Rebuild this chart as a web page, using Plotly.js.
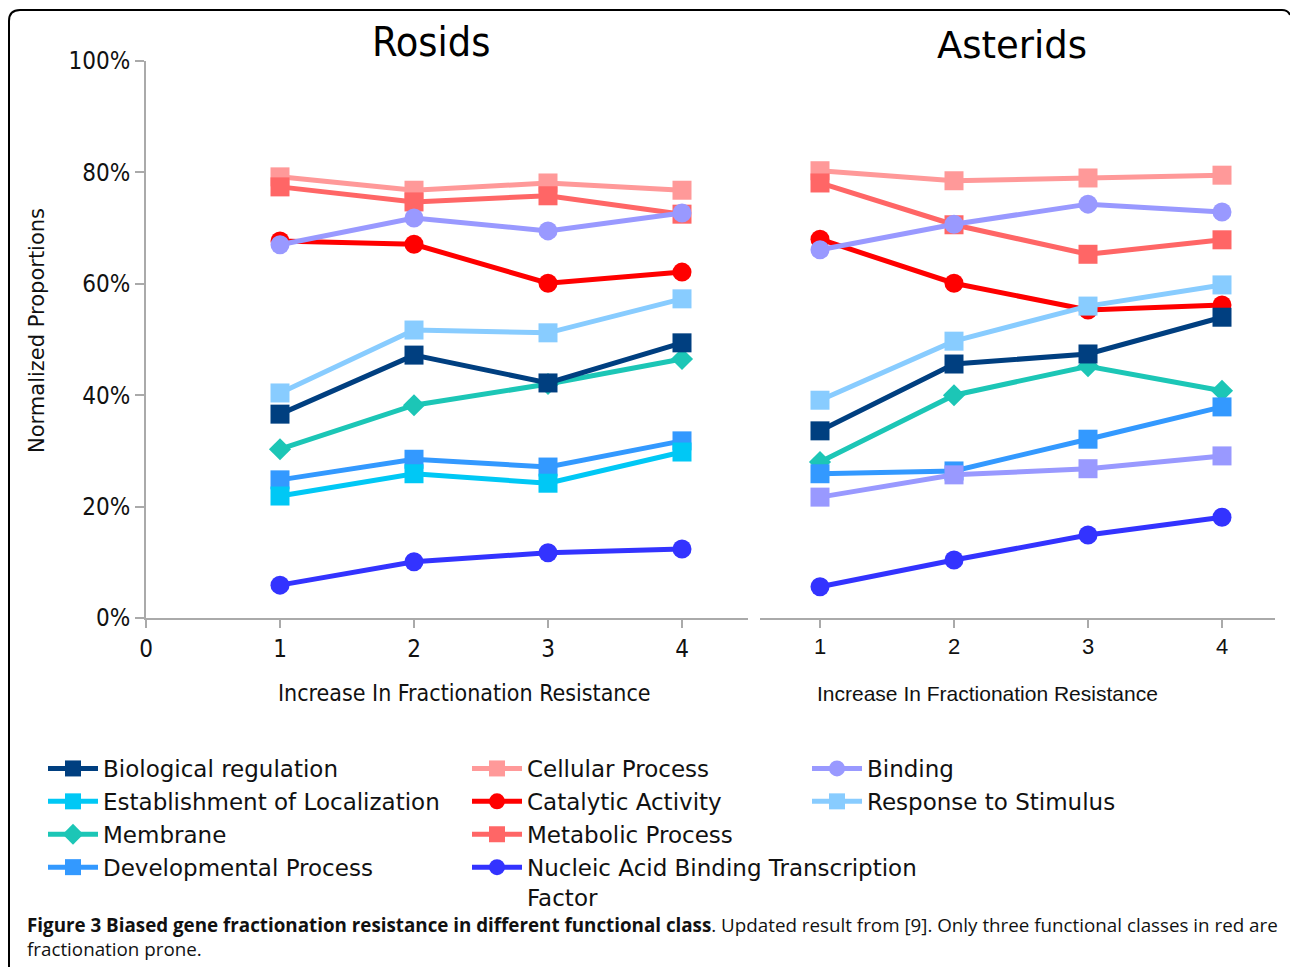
<!DOCTYPE html>
<html>
<head>
<meta charset="utf-8">
<script src="https://cdn.plot.ly/plotly-3.0.1.min.js"></script>
<style>
  html, body { margin: 0; padding: 0; background: #fff; }
  #chart { width: 1290px; height: 967px; }
</style>
</head>
<body>
<div id="chart"></div>
<script>
// ---------- data ----------
const levels = [1, 2, 3, 4];
const panelTitles = ["Rosids", "Asterids"];
const xAxisTitle = "Increase In Fractionation Resistance";
const yAxisTitle = "Normalized Proportions";
const leftTickVals = [0, 1, 2, 3, 4];
const rightTickVals = [1, 2, 3, 4];
const yTickVals = [0, 20, 40, 60, 80, 100];
const yTickText = ["0%", "20%", "40%", "60%", "80%", "100%"];

// Rosids (percent)
const rosCellular      = [79.2, 76.8, 78.1, 76.8];
const rosMetabolic     = [77.4, 74.7, 75.8, 72.5];
const rosBinding       = [67.0, 71.8, 69.5, 72.7];
const rosCatalytic     = [67.7, 67.1, 60.1, 62.1];
const rosResponse      = [40.4, 51.7, 51.2, 57.3];
const rosBioReg        = [36.6, 47.2, 42.2, 49.4];
const rosMembrane      = [30.3, 38.2, 42.0, 46.5];
const rosDevelopmental = [24.8, 28.5, 27.1, 31.8];
const rosEstablish     = [21.9, 25.9, 24.2, 29.8];
const rosNucleic       = [5.9, 10.1, 11.7, 12.4];

// Asterids (percent)
const astCellular      = [80.3, 78.5, 79.0, 79.5];
const astMetabolic     = [78.1, 70.6, 65.3, 67.9];
const astBinding       = [66.1, 70.7, 74.3, 72.9];
const astCatalytic     = [68.0, 60.1, 55.3, 56.2];
const astResponse      = [39.1, 49.7, 56.0, 59.8];
const astBioReg        = [33.6, 45.6, 47.4, 54.0];
const astMembrane      = [28.0, 40.0, 45.2, 40.8];
const astDevelopmental = [25.9, 26.4, 32.1, 37.9];
const astEstablish     = [21.7, 25.7, 26.8, 29.1];
const astNucleic       = [5.6, 10.4, 14.9, 18.1];

const captionBold = "Figure 3 Biased gene fractionation resistance in different functional class";
const captionRest = ". Updated result from [9]. Only three functional classes in red are";
const captionLine2 = "fractionation prone.";

// ---------- series definitions ----------
const series = [
  {name: "Cellular Process", ros: rosCellular, ast: astCellular, color: "#ff9999", symbol: "square", legend: "legend2", rank: 1},
  {name: "Metabolic Process", ros: rosMetabolic, ast: astMetabolic, color: "#ff6666", symbol: "square", legend: "legend2", rank: 3},
  {name: "Catalytic Activity", ros: rosCatalytic, ast: astCatalytic, color: "#ff0000", symbol: "circle", legend: "legend2", rank: 2},
  {name: "Binding", ros: rosBinding, ast: astBinding, color: "#9999ff", symbol: "circle", legend: "legend3", rank: 1},
  {name: "Response to Stimulus", ros: rosResponse, ast: astResponse, color: "#88ccff", symbol: "square", legend: "legend3", rank: 2},
  {name: "Membrane", ros: rosMembrane, ast: astMembrane, color: "#1cc6b6", symbol: "diamond", legend: "legend", rank: 3},
  {name: "Biological regulation", ros: rosBioReg, ast: astBioReg, color: "#003f80", symbol: "square", legend: "legend", rank: 1},
  {name: "Developmental Process", ros: rosDevelopmental, ast: astDevelopmental, color: "#3399ff", symbol: "square", legend: "legend", rank: 4},
  {name: "Establishment of Localization", ros: rosEstablish, ast: astEstablish, color: "#00c8f5", astColor: "#9999ff", symbol: "square", legend: "legend", rank: 2},
  {name: "Nucleic Acid Binding Transcription<br>Factor", ros: rosNucleic, ast: astNucleic, color: "#3333ff", symbol: "circle", legend: "legend2", rank: 4}
];

function markerSize(sym) { return sym === "diamond" ? 17 : 19; }

const traces = [];
series.forEach(function (s, i) {
  traces.push({
    type: "scatter", mode: "lines+markers",
    x: levels, y: s.ros, xaxis: "x", yaxis: "y",
    name: s.name, legend: s.legend, legendrank: s.rank, legendgroup: "g" + i,
    line: {color: s.color, width: 5},
    marker: {color: s.color, symbol: s.symbol, size: markerSize(s.symbol)},
    hoverinfo: "x+y+name"
  });
  traces.push({
    type: "scatter", mode: "lines+markers",
    x: levels, y: s.ast, xaxis: "x2", yaxis: "y2",
    name: s.name, legendgroup: "g" + i, showlegend: false,
    line: {color: s.astColor || s.color, width: 5},
    marker: {color: s.astColor || s.color, symbol: s.symbol, size: markerSize(s.symbol)},
    hoverinfo: "x+y+name"
  });
});

// ---------- layout helpers (pixel -> paper) ----------
const W = 1290, H = 967;
const px = function (v) { return v / W; };
const py = function (v) { return 1 - v / H; };

const condensed = "DejaVu Sans Condensed, Liberation Sans Narrow, DejaVu Sans, sans-serif";
const dejavu = "DejaVu Sans, sans-serif";
const arial = "Liberation Sans, Arial, sans-serif";
const gridGrey = "#aaaaaa";

const legendFont = {family: dejavu, size: 23, color: "#111"};
function legendAt(x, y, valign) {
  return {x: x, y: y, xanchor: "left", yanchor: "top", orientation: "v",
          font: legendFont, bgcolor: "rgba(0,0,0,0)", borderwidth: 0,
          tracegroupgap: 0, valign: valign || "middle", itemwidth: 50};
}

const layout = {
  width: W, height: H,
  margin: {l: 0, r: 0, t: 0, b: 0, pad: 0},
  paper_bgcolor: "#ffffff", plot_bgcolor: "#ffffff",
  showlegend: true,
  legend: legendAt(px(43), py(747)),
  legend2: legendAt(px(467), py(747), "top"),
  legend3: legendAt(px(807), py(747)),
  xaxis: {
    domain: [px(146), px(748)], range: [0, 4.4925], anchor: "y",
    tickmode: "array", tickvals: leftTickVals,
    ticks: "outside", ticklen: 8, tickwidth: 2, tickcolor: gridGrey,
    showline: true, linecolor: gridGrey, linewidth: 2,
    showgrid: false, zeroline: false,
    tickfont: {family: condensed, size: 24, color: "#111"}
  },
  yaxis: {
    domain: [py(618), py(61)], range: [0, 100], anchor: "x",
    tickmode: "array", tickvals: yTickVals, ticktext: yTickText,
    ticks: "outside", ticklen: 9, tickwidth: 2, tickcolor: gridGrey,
    showline: true, linecolor: gridGrey, linewidth: 2,
    showgrid: false, zeroline: false,
    tickfont: {family: condensed, size: 24, color: "#111"}
  },
  xaxis2: {
    domain: [px(760), px(1275)], range: [1 - 60 / 134, 4 + 53 / 134], anchor: "y2",
    tickmode: "array", tickvals: rightTickVals,
    ticks: "outside", ticklen: 8, tickwidth: 1.5, tickcolor: gridGrey,
    showline: true, linecolor: gridGrey, linewidth: 2,
    showgrid: false, zeroline: false,
    tickfont: {family: arial, size: 22, color: "#111"}
  },
  yaxis2: {
    domain: [py(618), py(61)], range: [0, 100], anchor: "x2",
    visible: false, showgrid: false, zeroline: false
  },
  annotations: [
    {text: panelTitles[0], x: px(431), y: py(42), xref: "paper", yref: "paper",
     xanchor: "center", yanchor: "middle", showarrow: false,
     font: {family: condensed, size: 41, color: "#000"}},
    {text: panelTitles[1], x: px(1012), y: py(46), xref: "paper", yref: "paper",
     xanchor: "center", yanchor: "middle", showarrow: false,
     font: {family: dejavu, size: 37, color: "#000"}},
    {text: xAxisTitle, x: px(465), y: py(693), xref: "paper", yref: "paper",
     xanchor: "center", yanchor: "middle", showarrow: false,
     font: {family: condensed, size: 23, color: "#111"}},
    {text: xAxisTitle, x: px(987), y: py(693), xref: "paper", yref: "paper",
     xanchor: "center", yanchor: "middle", showarrow: false,
     font: {family: arial, size: 21, color: "#111"}},
    {text: yAxisTitle, x: px(37), y: py(331), xref: "paper", yref: "paper",
     xanchor: "center", yanchor: "middle", showarrow: false, textangle: -90,
     font: {family: dejavu, size: 21, color: "#111"}},
    {text: "<b>" + captionBold + "</b>" + captionRest + "<br>" + captionLine2,
     x: px(25), y: py(910), xref: "paper", yref: "paper",
     xanchor: "left", yanchor: "top", align: "left", showarrow: false,
     font: {family: "Open Sans, sans-serif", size: 18.8, color: "#111"}}
  ],
  shapes: [
    {type: "path", xref: "paper", yref: "paper",
     path: "M " + px(9) + "," + py(975) + " L " + px(9) + "," + py(21) +
           " Q " + px(9) + "," + py(10) + " " + px(20) + "," + py(10) +
           " L " + px(1282) + "," + py(10) +
           " Q " + px(1288) + "," + py(10) + " " + px(1290) + "," + py(15),
     line: {color: "#000", width: 2}}
  ]
};

Plotly.newPlot("chart", traces, layout, {displayModeBar: false, responsive: false});
</script>
</body>
</html>
